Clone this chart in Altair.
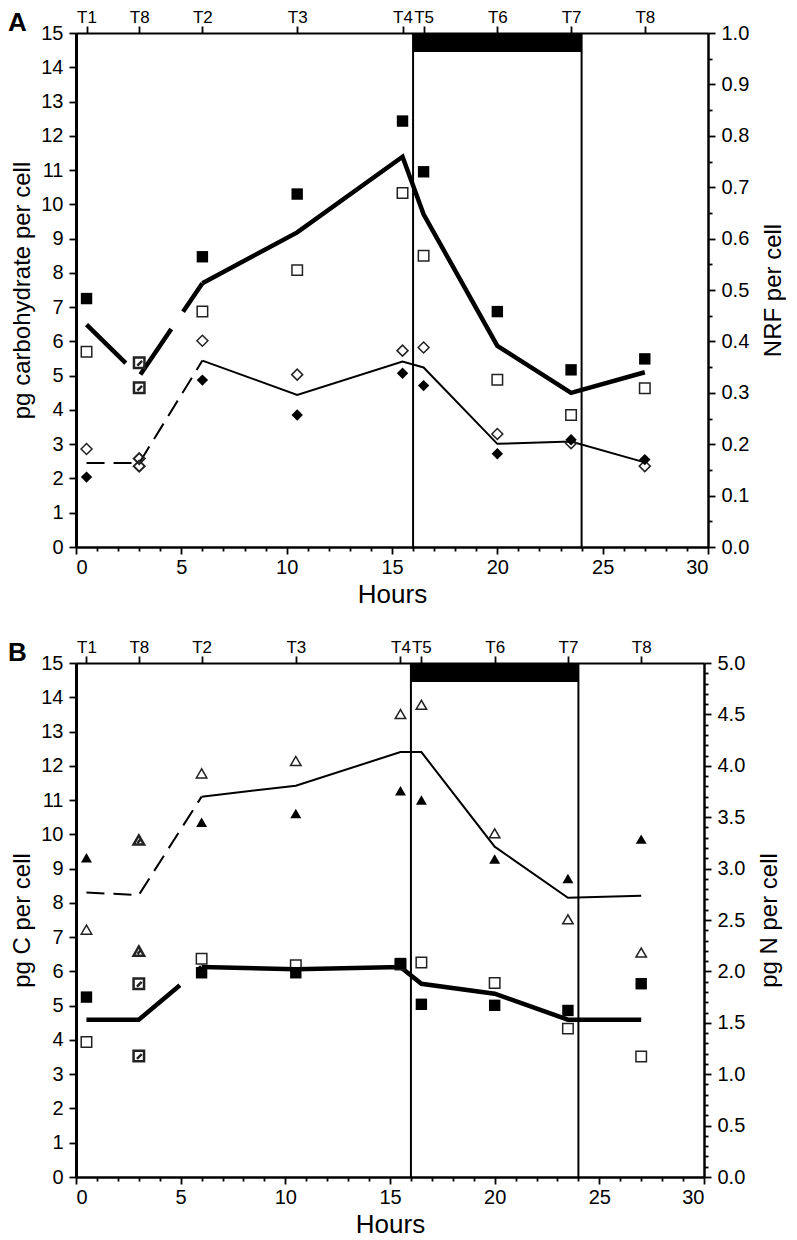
import altair as alt
import pandas as pd

# ---------------- data ----------------
T_HOURS = [0.5, 3, 6, 10.5, 15.5, 16.5, 20, 23.5, 27]
T_LABELS = ["T1", "T8", "T2", "T3", "T4", "T5", "T6", "T7", "T8"]
DARK = [16, 24]
HATCH_HOURS = [3, 3]

DASH_HOURS = [0.5, 3, 6]
SOLID_HOURS = [6, 10.5, 15.5, 16.5, 20, 23.5, 27]

# Panel A (left axis units: pg carbohydrate per cell)
A_SQ_FILLED = [7.25, None, 8.47, 10.3, 12.43, 10.95, 6.87, 5.17, 5.49]
A_SQ_OPEN = [5.70, None, 6.87, 8.08, 10.33, 8.50, 4.88, 3.85, 4.63]
A_SQ_HATCH = [5.38, 4.65]
A_DIA_FILLED = [2.04, None, 4.87, 3.85, 5.07, 4.71, 2.72, 3.13, 2.55]
A_DIA_OPEN = [2.86, None, 6.02, 5.03, 5.73, 5.82, 3.30, 3.03, 2.36]
A_DIA_HATCH = [2.58, 2.36]
A_THICK_DASH = [6.49, 4.98, 7.70]
A_THICK_SOLID = [7.70, 9.18, 11.39, 9.71, 5.87, 4.50, 5.10]
A_THIN_DASH = [2.45, 2.45, 5.44]
A_THIN_SOLID = [5.44, 4.44, 5.41, 5.24, 3.01, 3.08, 2.47]

# Panel B (left axis units: pg C per cell)
B_TRI_FILLED = [9.32, None, 10.35, 10.61, 11.27, 11.0, 9.28, 8.71, 9.86]
B_TRI_OPEN = [7.22, None, 11.78, 12.14, 13.51, 13.78, 10.03, 7.52, 6.55]
B_TRI_HATCH = [9.83, 6.59]
B_SQ_FILLED = [5.25, None, 5.96, 5.96, 6.23, 5.04, 5.01, 4.86, 5.64]
B_SQ_OPEN = [3.94, None, 6.37, 6.18, 6.20, 6.26, 5.66, 4.33, 3.52]
B_SQ_HATCH = [5.64, 3.53]
B_THIN_DASH = [8.30, 8.23, 11.10]
B_THIN_SOLID = [11.10, 11.42, 12.40, 12.40, 9.64, 8.15, 8.21]
B_THICK_DASH = [4.59, 4.59, 6.13]
B_THICK_SOLID = [6.13, 6.06, 6.13, 5.64, 5.35, 4.59, 4.59]

FONT = "Liberation Sans"
HATCH_SQ = "M-1,-1L1,-1L1,1L-1,1Z M-0.35,0.55L0.55,-0.35"
HATCH_TRI = "M0,-0.9L1,0.85L-1,0.85Z M-0.25,0.55L0.3,-0.1"


def frame(hours, vals):
    rows = [(h, v) for h, v in zip(hours, vals) if v is not None]
    return pd.DataFrame({"h": [r[0] for r in rows], "v": [r[1] for r in rows]})


def tickvals(step, n):
    return [round(i * step, 4) for i in range(n + 1)]


XS = alt.Scale(domain=[0, 30], nice=False, zero=False)


def top_label_expr():
    expr = "''"
    for h, lab in reversed(list(zip(T_HOURS, T_LABELS))):
        expr = f"datum.value == {h} ? '{lab}' : ({expr})"
    return expr


COMMON = dict(grid=False, domainColor="black", tickColor="black", tickWidth=1.8,
              labelColor="black", titleColor="black", labelFont=FONT, titleFont=FONT,
              titleFontWeight="normal", labelOverlap=False)


def panel(letter, left_title, right_title, right_max, right_major, right_minor_n,
          series, lines, width):
    bax = alt.Axis(orient="bottom", values=tickvals(1, 30), format="d",
                   labelExpr="datum.value % 5 == 0 ? datum.label : ''",
                   tickSize={"condition": {"test": "datum.value % 5 == 0", "value": 7}, "value": 4},
                   labelFontSize=20, labelPadding=3, title="Hours", titleFontSize=26,
                   titlePadding=4, domainWidth=2.5, **COMMON)
    lax = alt.Axis(orient="left", values=tickvals(0.5, 30), format="d",
                   labelExpr="datum.value % 1 == 0 ? datum.label : ''",
                   tickSize={"condition": {"test": "datum.value % 1 == 0", "value": 7}, "value": 4},
                   labelFontSize=20, labelPadding=6, title=left_title, titleFontSize=24,
                   titlePadding=6, domainWidth=3, **COMMON)
    ys = alt.Scale(domain=[0, 15], nice=False, zero=True)

    X = lambda f: alt.X(f, scale=XS, axis=bax)
    Y = lambda f: alt.Y(f, scale=ys, axis=lax)

    layers = []
    dark = pd.DataFrame({"start": [DARK[0]], "end": [DARK[1]]})
    layers.append(alt.Chart(dark).mark_rect(color="black").encode(
        x=X("start:Q"), x2="end:Q", y=alt.value(0), y2=alt.value(19)))
    layers.append(alt.Chart(pd.DataFrame({"h": DARK})).mark_rule(
        color="black", strokeWidth=2).encode(x=X("h:Q")))

    for hours, vals, sw, dash in lines:
        m = dict(color="black", strokeWidth=sw, strokeCap="butt")
        if dash:
            m["strokeDash"] = dash
        layers.append(alt.Chart(frame(hours, vals)).mark_line(**m).encode(
            x=X("h:Q"), y=Y("v:Q")))

    for hours, vals, shape, filled, size, sw in series:
        if filled:
            mk = alt.Chart(frame(hours, vals)).mark_point(
                shape=shape, filled=True, size=size, color="black", opacity=1, strokeWidth=0)
        else:
            mk = alt.Chart(frame(hours, vals)).mark_point(
                shape=shape, filled=False, size=size, color="#222", opacity=1, strokeWidth=sw)
        layers.append(mk.encode(x=X("h:Q"), y=Y("v:Q")))

    layers.append(alt.Chart(alt.Data(values=[{"t": letter}])).mark_text(
        font=FONT, fontSize=26, fontWeight="bold", align="left", baseline="top",
        color="black").encode(text="t:N", x=alt.value(-68), y=alt.value(-23)))

    left_group = alt.layer(*layers)

    tax = alt.Axis(orient="top", values=T_HOURS, labelExpr=top_label_expr(),
                   tickSize=7, labelFontSize=17, labelPadding=0, title=None,
                   domainWidth=2, **COMMON)
    nmin = right_minor_n
    step = right_max / nmin
    per = round(right_major / step)
    rax = alt.Axis(orient="right", values=tickvals(step, nmin),
                   labelExpr=f"round(datum.value / {step}) % {per} == 0 ? format(datum.value, '.1f') : ''",
                   tickSize={"condition": {"test": f"round(datum.value / {step}) % {per} == 0", "value": 7}, "value": 4},
                   labelFontSize=20, labelPadding=6, title=right_title, titleFontSize=24,
                   titleAngle=270, titleBaseline="top", titlePadding=13, domainWidth=2.5,
                   **COMMON)
    right_group = alt.Chart(pd.DataFrame({"h": T_HOURS, "v": [0] * len(T_HOURS)})).mark_point(
        opacity=0).encode(
        x=alt.X("h:Q", scale=XS, axis=tax),
        y=alt.Y("v:Q", scale=alt.Scale(domain=[0, right_max], nice=False), axis=rax))

    return alt.layer(left_group, right_group).resolve_scale(
        x="independent", y="independent").properties(width=width, height=514)


A_series = [
    (T_HOURS, A_SQ_OPEN, "square", False, 110, 1.5),
    (T_HOURS, A_SQ_FILLED, "square", True, 130, 0),
    (T_HOURS, A_DIA_OPEN, "diamond", False, 120, 1.5),
    (T_HOURS, A_DIA_FILLED, "diamond", True, 130, 0),
    (HATCH_HOURS, A_SQ_HATCH, HATCH_SQ, False, 110, 2.5),
    (HATCH_HOURS, A_DIA_HATCH, "diamond", False, 120, 2),
]
A_lines = [
    (DASH_HOURS, A_THICK_DASH, 4.5, [55, 21]),
    (SOLID_HOURS, A_THICK_SOLID, 4.5, None),
    (DASH_HOURS, A_THIN_DASH, 2, [18, 9]),
    (SOLID_HOURS, A_THIN_SOLID, 2, None),
]
B_series = [
    (T_HOURS, B_SQ_OPEN, "square", False, 110, 1.5),
    (T_HOURS, B_SQ_FILLED, "square", True, 130, 0),
    (T_HOURS, B_TRI_OPEN, "triangle-up", False, 110, 1.5),
    (T_HOURS, B_TRI_FILLED, "triangle-up", True, 120, 0),
    (HATCH_HOURS, B_SQ_HATCH, HATCH_SQ, False, 110, 2.5),
    (HATCH_HOURS, B_TRI_HATCH, HATCH_TRI, False, 110, 2.5),
]
B_lines = [
    (DASH_HOURS, B_THICK_DASH, 4.5, [106, 24]),
    (SOLID_HOURS, B_THICK_SOLID, 4.5, None),
    (DASH_HOURS, B_THIN_DASH, 2, [18, 9]),
    (SOLID_HOURS, B_THIN_SOLID, 2, None),
]

pa = panel("A", "pg carbohydrate per cell", "NRF per cell", 1.0, 0.1, 20, A_series, A_lines, 632)
pb = panel("B", "pg C per cell", "pg N per cell", 5.0, 0.5, 50, B_series, B_lines, 628)

chart = alt.vconcat(pa, pb, spacing=31).properties(padding=0).configure(
    font=FONT).configure_view(stroke=None).configure_axis(grid=False)

chart.save("out.html", embed_options={"renderer": "svg", "actions": False})
